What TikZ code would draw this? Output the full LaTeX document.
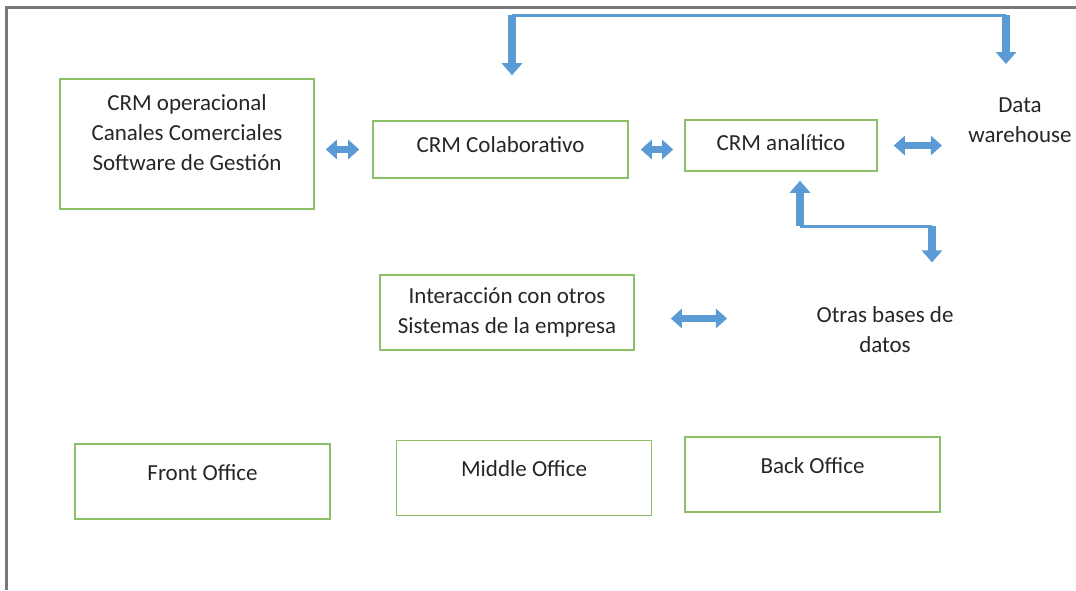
\documentclass[tikz,border=0pt]{standalone}
\usepackage{fontspec}
\setmainfont{Carlito}
\usetikzlibrary{arrows.meta}
\usetikzlibrary{positioning}
\definecolor{boxgreen}{RGB}{140,192,104}
\definecolor{arrowblue}{RGB}{91,155,213}
\definecolor{framegray}{RGB}{120,120,120}

\tikzset{
    box/.style={draw=boxgreen, line width=1.6pt, align=center, inner sep=0pt},
    office/.style={box, minimum width=255pt, minimum height=75pt, text depth=18pt},
    dbl/.style={draw=arrowblue, line width=7pt, {Triangle[width=19pt,length=11pt]}-{Triangle[width=19pt,length=11pt]}},
    fat/.style={draw=arrowblue, line width=8pt, -{Triangle[width=20pt,length=12pt]}},
    thinline/.style={draw=arrowblue, line width=3pt},
}

\begin{document}
\begin{tikzpicture}[x=1pt, y=-1pt, font=\fontsize{23}{30}\selectfont, text=black!85]
    \useasboundingbox (0,0) rectangle (1076,590);
    \draw[framegray, line width=3pt] (6,590) -- (6,7) -- (1076,7);

    \node[box, minimum width=254pt, minimum height=130pt, text depth=22pt] (op) at (187,144) {CRM operacional\\Canales Comerciales\\Software de Gestión};
    \node[box, minimum width=255pt, minimum height=57pt, text depth=9pt] (colab) at (500.5,149.5) {CRM Colaborativo};
    \node[box, minimum width=192pt, minimum height=51pt, text depth=6pt] (anal) at (781,145.5) {CRM analítico};
    \node[align=center] (dw) at (1020,120) {Data\\warehouse};

    \node[box, minimum width=254pt, minimum height=75pt] (inter) at (507,312.5) {Interacción con otros\\Sistemas de la empresa};
    \node[align=center] (otras) at (885,330) {Otras bases de\\datos};

    \node[office] (front) at (202.5,481.5) {Front Office};
    \node[office] (middle) at (524,478) {Middle Office};
    \node[office] (back) at (812.5,474.5) {Back Office};

    % double arrows between the boxes
    \draw[dbl, shorten <=11pt, shorten >=13pt] (op.east |- colab.west) -- (colab.west);
    \draw[dbl, shorten <=12pt, shorten >=11pt] (colab.east) -- (anal.west |- colab.east);
    \draw[dbl, shorten <=16pt, shorten >=23pt] (anal.east) -- (dw.west |- anal.east);
    \draw[dbl, shorten <=36pt, shorten >=86pt] ([yshift=-6pt]inter.east) -- ([yshift=-6pt]inter.east -| otras.west);

    % link over the top
    \coordinate (topL) at (512,15);
    \coordinate (topR) at (1006,15);
    \draw[thinline] (topL) -- (topR);
    \draw[fat] (topL) -- ([xshift=11.5pt,yshift=45pt]colab.north);
    \draw[fat] (topR) -- ([xshift=-14pt,yshift=30pt]dw.north);

    % link to the other databases
    \coordinate (midL) at (800,226);
    \coordinate (midR) at (932,226);
    \draw[thinline] (midL) -- (midR);
    \draw[fat] (midL) -- ([xshift=19pt,yshift=-9pt]anal.south);
    \draw[fat] (midR) -- ([xshift=47pt,yshift=41pt]otras.north);
\end{tikzpicture}
\end{document}
